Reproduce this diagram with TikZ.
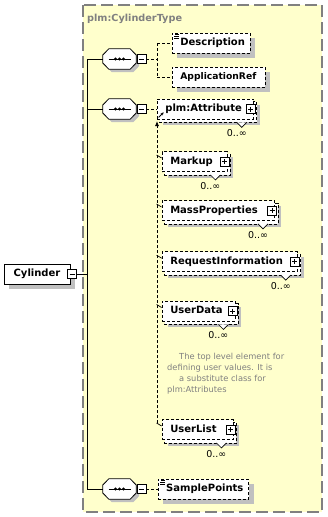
\documentclass[tikz,border=0pt]{standalone}
\usepackage{fontspec}
\setmainfont{DejaVu Sans}
\usetikzlibrary{arrows.meta,calc}
\definecolor{xyellow}{HTML}{FFFFCC}
\definecolor{xshadow}{HTML}{C0C0C0}
\definecolor{xgray}{HTML}{808080}
\pgfdeclarelayer{xbg}
\pgfdeclarelayer{xsh}
\pgfdeclarelayer{xback}
\pgfsetlayers{xbg,xsh,xback,main}
\tikzset{
  typebox/.style={fill=xyellow, draw=xgray, line width=1.5pt, dash pattern=on 12pt off 5pt},
  titlelabel/.style={anchor=west, inner sep=0pt, text=xgray, font=\fontsize{9.7}{11}\selectfont\bfseries, text height=7pt, text depth=2pt},
  elemline/.style={draw=black, line width=0.8pt, dash pattern=on 3pt off 2pt},
  elembox/.style={elemline, fill=white, minimum height=20pt, inner sep=0pt},
  rootbox/.style={draw=black, line width=0.8pt, fill=white, minimum height=20pt, minimum width=66pt, inner sep=0pt, font=\fontsize{10}{11}\selectfont\bfseries, text height=7pt, text depth=2pt},
  elemlabel/.style={anchor=west, inner sep=0pt, font=\fontsize{10}{11}\selectfont\bfseries, text height=7pt, text depth=2pt},
  multlabel/.style={inner sep=0pt, font=\fontsize{9.5}{10}\selectfont},
  notelabel/.style={anchor=west, inner sep=0pt, text=xgray, font=\fontsize{8.3}{10}\selectfont, text height=6pt, text depth=2pt},
  seqbox/.style={draw=none, minimum width=33pt, minimum height=20pt, inner sep=0pt},
  seqline/.style={draw=black, line width=0.8pt, fill=white},
  minusbox/.style={draw=black, line width=0.6pt, fill=white, minimum size=9pt, inner sep=0pt,
    path picture={\draw[line width=0.7pt] ([xshift=2pt]path picture bounding box.west) -- ([xshift=-2pt]path picture bounding box.east);}},
  plusbox/.style={draw=black, line width=0.6pt, fill=white, minimum size=9pt, inner sep=0pt,
    path picture={\draw[line width=0.7pt] ([xshift=2pt]path picture bounding box.west) -- ([xshift=-2pt]path picture bounding box.east)
      ([yshift=-2pt]path picture bounding box.north) -- ([yshift=2pt]path picture bounding box.south);}},
  solidconn/.style={draw=black, line width=0.8pt},
  dashconn/.style={draw=black, line width=0.8pt, dash pattern=on 3pt off 2pt},
  tickconn/.style={draw=black, line width=0.7pt},
  notchline/.style={draw=black, line width=0.7pt, fill=white},
  iconline/.style={draw=black, line width=0.7pt},
}
\newcommand{\xsdshadow}[2]{%
  \begin{pgfonlayer}{xsh}
    \fill[xshadow] ([shift={(#2pt,-#2pt)}]#1.north west) rectangle ([shift={(#2pt,-#2pt)}]#1.south east);
  \end{pgfonlayer}}
% octagon path around node #1, shifted by #2
\newcommand{\xsdoct}[2]{%
  ([shift={(#2pt,-#2pt)}]$(#1.west)+(0pt,4pt)$) -- ([shift={(#2pt,-#2pt)}]$(#1.north west)+(6pt,0pt)$)
  -- ([shift={(#2pt,-#2pt)}]$(#1.north east)+(-6pt,0pt)$) -- ([shift={(#2pt,-#2pt)}]$(#1.east)+(0pt,4pt)$)
  -- ([shift={(#2pt,-#2pt)}]$(#1.east)+(0pt,-4pt)$) -- ([shift={(#2pt,-#2pt)}]$(#1.south east)+(-6pt,0pt)$)
  -- ([shift={(#2pt,-#2pt)}]$(#1.south west)+(6pt,0pt)$) -- ([shift={(#2pt,-#2pt)}]$(#1.west)+(0pt,-4pt)$) -- cycle}
\newcommand{\xsdseq}[3]{%
  \node[seqbox] (#1) at (#2,#3) {};
  \begin{pgfonlayer}{xsh}
    \fill[xshadow] \xsdoct{#1}{3};
  \end{pgfonlayer}
  \draw[seqline] \xsdoct{#1}{0};
  \draw[solidconn] ([xshift=-11pt]#1.center) -- ([xshift=11pt]#1.center);
  \fill ([xshift=-4pt]#1.center) circle (1.7pt) (#1.center) circle (1.7pt) ([xshift=4pt]#1.center) circle (1.7pt);
  \node[minusbox] (#1m) at ([xshift=22pt]#1.center) {};}
\newcommand{\xsdsingle}[5]{%
  \node[elembox, minimum width=#4pt] (#1) at (#2,#3) {};
  \node[elemlabel] (#1t) at ([xshift=8.5pt]#1.west) {#5};
  \xsdshadow{#1}{5}}
\newcommand{\xsddocicon}[1]{%
  \draw[iconline] ([shift={(3.5pt,-1.5pt)}]#1.north west) -- ++(4pt,0)
    ([shift={(2.5pt,-3.5pt)}]#1.north west) -- ++(5pt,0)
    ([shift={(2.5pt,-5.5pt)}]#1.north west) -- ++(5pt,0);}
\newcommand{\xsdmulti}[5]{%
  \node[elembox, minimum width=#4pt] (#1) at (#2,#3) {};
  \node[elemlabel] (#1t) at ([xshift=8.5pt]#1.west) {#5};
  \node[plusbox] (#1p) at ([xshift=-3pt]#1.east) {};
  \begin{pgfonlayer}{xback}
    \draw[elemline, fill=white] ([shift={(3pt,-3pt)}]#1.north west) rectangle ([shift={(3pt,-3pt)}]#1.south east);
    \draw[notchline] ([shift={(-17pt,-3pt)}]#1.south east) -- ([shift={(-12pt,-8pt)}]#1.south east) -- ([shift={(-7pt,-3pt)}]#1.south east);
  \end{pgfonlayer}
  \xsdshadow{#1}{6}
  \node[multlabel] (#1n) at ([shift={(-17pt,-14pt)}]#1.south east) {0..∞};}

\begin{document}
\begin{tikzpicture}[x=1pt,y=-1pt]
\useasboundingbox (0,0) rectangle (328,517);
\begin{pgfonlayer}{xbg}
  \fill[white] (0,0) rectangle (328,517);
  \draw[typebox] (83,5) rectangle (322,512);
\end{pgfonlayer}
\node[titlelabel] (title) at (87,19) {plm:CylinderType};

% root element
\node[rootbox] (cyl) at (37,274) {Cylinder};
\xsdshadow{cyl}{5}
\node[minusbox] (cylm) at (72,274) {};

% sequences
\xsdseq{s1}{119.5}{59}
\xsdseq{s2}{119.5}{109}
\xsdseq{s3}{119.5}{489}

% elements
\xsdsingle{desc}{211}{43}{78}{Description}
\xsddocicon{desc}
\xsdsingle{appref}{218.5}{77}{93}{\fontsize{9.2}{10}\selectfont ApplicationRef}
\xsdmulti{attr}{205.2}{109}{96.3}{plm:Attribute}
\draw[line width=0.9pt, -{Stealth[length=3pt,width=3pt]}] ([shift={(2pt,2pt)}]attr.south west) -- ([shift={(7pt,7pt)}]attr.south west);
\xsdmulti{markup}{194.5}{161.5}{65}{Markup}
\xsdmulti{massprop}{218.3}{210.5}{112.7}{MassProperties}
\xsdmulti{reqinfo}{229.7}{261.7}{135.3}{RequestInformation}
\xsdmulti{userdata}{198.5}{311}{73}{UserData}
\xsdmulti{userlist}{197.5}{429.5}{71}{UserList}
\xsdsingle{sample}{203.2}{489}{90.6}{SamplePoints}
\xsddocicon{sample}

% annotation
\node[notelabel] (note1) at (179,357) {The top level element for};
\node[notelabel] (note2) at (167,368) {defining user values. It is};
\node[notelabel] (note3) at (179,379) {a substitute class for};
\node[notelabel] (note4) at (167,390) {plm:Attributes};

% trunk connectors
\coordinate (trunktop) at (87,59);
\coordinate (trunkbot) at (87,489);
\draw[solidconn] (trunktop) -- (trunkbot);
\draw[solidconn] (cylm.east) -- (cylm.east -| trunktop);
\draw[solidconn] (trunktop) -- (s1.west);
\draw[solidconn] (s2.west -| trunktop) -- (s2.west);
\draw[solidconn] (trunkbot) -- (s3.west);

% choice connectors
\coordinate (c1) at (157,59);
\coordinate (c1t) at (157,43);
\coordinate (c1b) at (157,77);
\draw[dashconn] (s1m.east) -- (c1);
\draw[dashconn] (c1t) -- (c1b);
\draw[dashconn] (c1t) -- (desc.west);
\draw[dashconn] (c1b) -- (appref.west);
\draw[dashconn] (s2m.east) -- (attr.west);
\draw[dashconn] (s3m.east) -- (sample.west);

% substitution group
\coordinate (subtop) at (157,121);
\coordinate (subbot) at (157,423);
\draw[dashconn, -{Latex[length=5pt,width=4pt]}] (subbot) -- (subtop);
\foreach \m in {markup,massprop,reqinfo,userdata,userlist}{
  \draw[tickconn] ([shift={(-5pt,6.5pt)}]\m.west) -- ([yshift=3.5pt]\m.west);
}
\end{tikzpicture}
\end{document}
